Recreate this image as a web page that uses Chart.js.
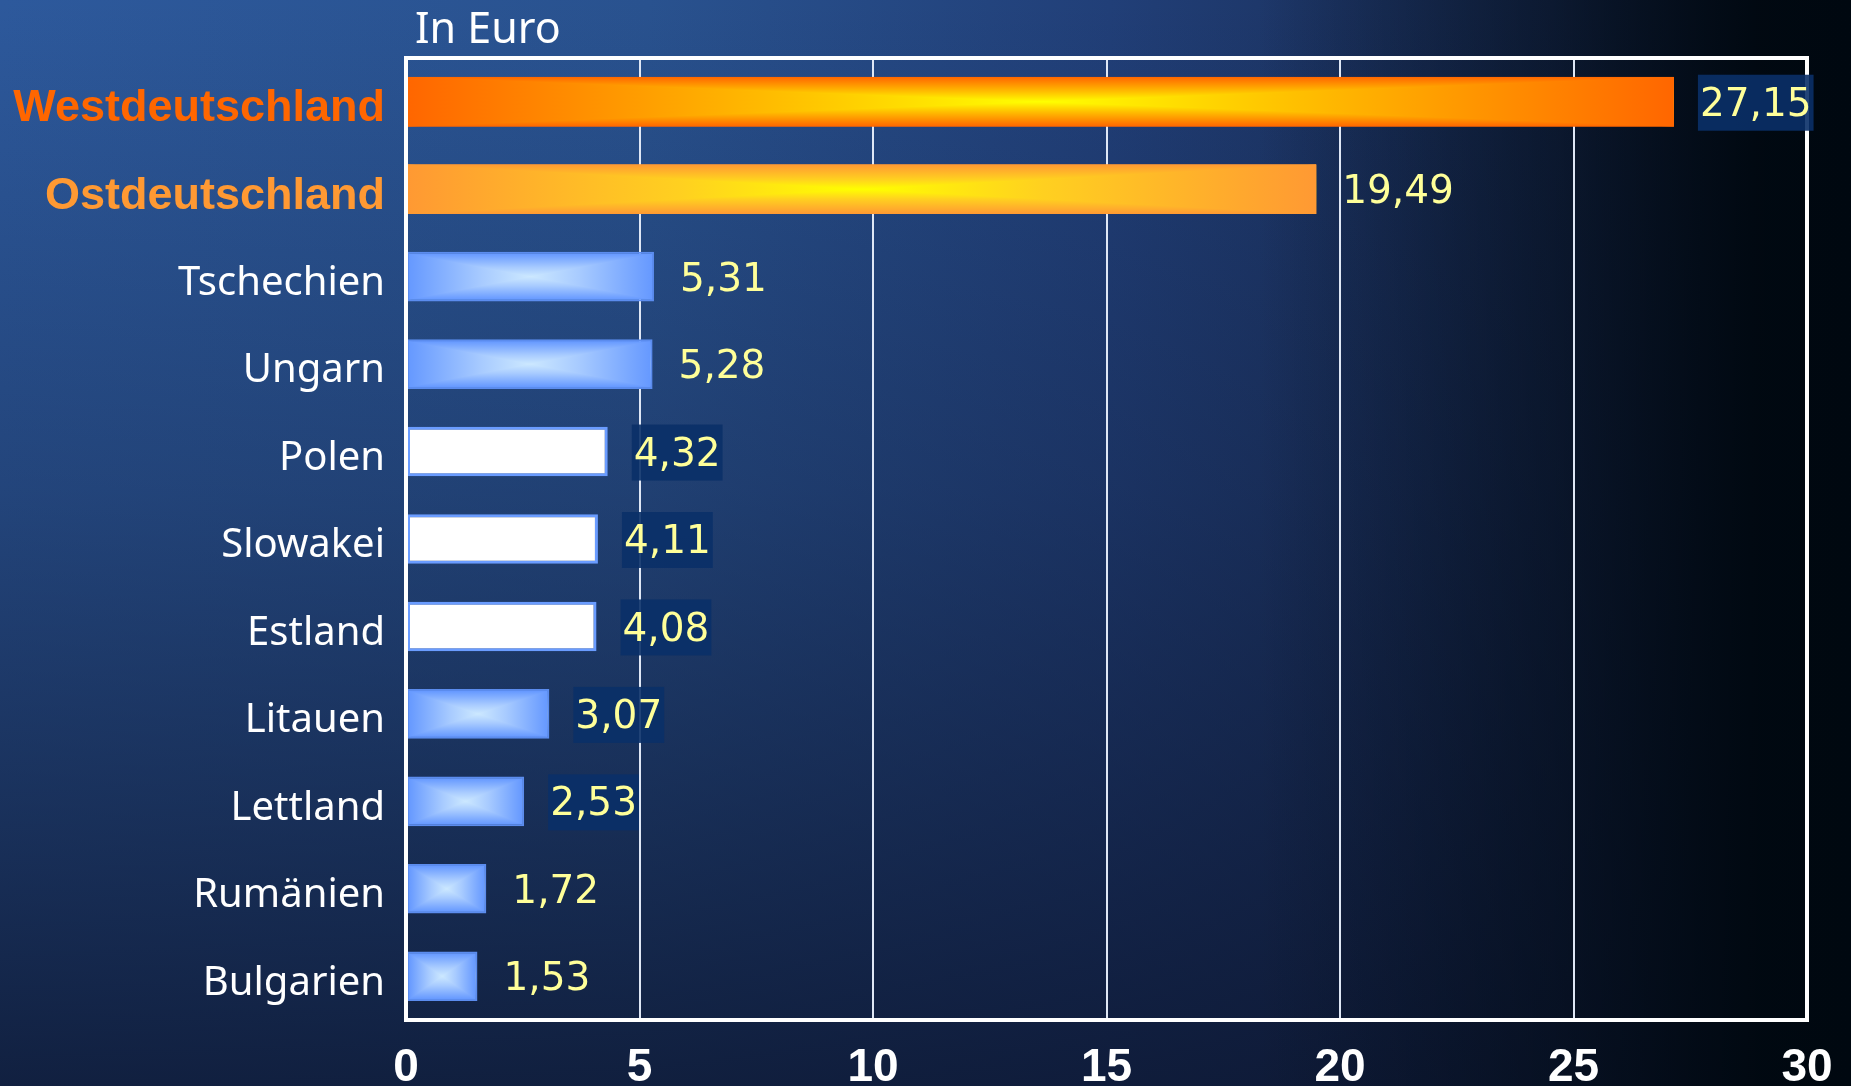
<!DOCTYPE html>
<html>
<head>
<meta charset="utf-8">
<script src="https://cdn.jsdelivr.net/npm/chart.js@4"></script>
<style>
  html, body { margin: 0; padding: 0; }
  body {
    width: 1851px; height: 1086px; overflow: hidden;
    background:
      linear-gradient(to right, rgba(0,8,16,0) 0%, rgba(0,8,16,0) 68%, rgba(0,8,16,0.5) 84%, rgba(0,8,16,0.97) 95%, #000810 100%),
      linear-gradient(to bottom, rgba(12,22,48,0) 0%, rgba(12,22,48,0.3) 45%, rgba(12,22,48,0.85) 100%),
      linear-gradient(to right, #2d599c 0%, #29528f 35%, #213f78 60%, #17294f 85%, #101b36 100%);
  }
  #wrap { width: 1851px; height: 1086px; position: relative; }
</style>
</head>
<body>
<div id="wrap"><canvas id="chart"></canvas></div>
<script>
let countries = ['Westdeutschland', 'Ostdeutschland', 'Tschechien', 'Ungarn', 'Polen', 'Slowakei',
                 'Estland', 'Litauen', 'Lettland', 'Rumänien', 'Bulgarien'];
let wages = [27.15, 19.49, 5.31, 5.28, 4.32, 4.11, 4.08, 3.07, 2.53, 1.72, 1.53];
let xTicks = [0, 5, 10, 15, 20, 25, 30];
let unitLabel = 'In Euro';

// look of each bar
let orange = {
    'Westdeutschland': { edge: '#ff6600', mid: '#ffff00', step: '#ffc000', label: '#ff6600' },
    'Ostdeutschland': { edge: '#ff9933', mid: '#ffff00', step: '#ffd020', label: '#ff9933' }
};
let whiteBars = ['Polen', 'Slowakei', 'Estland'];
let boxedValues = ['Westdeutschland', 'Polen', 'Slowakei', 'Estland', 'Litauen', 'Lettland'];

function fmt(v) {
    return v.toFixed(2).replace('.', ',');
}

function pillow(ctx, L, T, R, B, c) {
    let cx = (L + R) / 2, cy = (T + B) / 2;
    let g = ctx.createLinearGradient(0, T, 0, B);
    g.addColorStop(0, c.edge); g.addColorStop(0.3, c.step); g.addColorStop(0.5, c.mid);
    g.addColorStop(0.7, c.step); g.addColorStop(1, c.edge);
    ctx.fillStyle = g;
    ctx.fillRect(L, T, R - L, B - T);

    // left and right wedges
    [[L, cx], [R, cx]].forEach(([x0, x1]) => {
        let h = ctx.createLinearGradient(x0, 0, x1, 0);
        h.addColorStop(0, c.edge); h.addColorStop(0.6, c.step); h.addColorStop(1, c.mid);
        ctx.fillStyle = h;
        ctx.beginPath();
        ctx.moveTo(x0, T);
        ctx.lineTo(x1, cy);
        ctx.lineTo(x0, B);
        ctx.closePath();
        ctx.fill();
    });
}

let decor = {
    id: 'decor',
    afterDatasetsDraw(chart) {
        let ctx = chart.ctx;
        let area = chart.chartArea;
        let meta = chart.getDatasetMeta(0);
        ctx.save();

        meta.data.forEach((bar, i) => {
            let p = bar.getProps(['x', 'y', 'base', 'height'], true);
            let name = countries[i];
            if (whiteBars.includes(name)) return;
            let c = orange[name] || { edge: '#6699ff', mid: '#cce8ff', step: '#a8cbff' };
            let inset = orange[name] ? 0 : 2;
            pillow(ctx, p.base + inset, p.y - p.height / 2 + inset, p.x - inset, p.y + p.height / 2 - inset, c);
        });

        // frame round the plot
        ctx.strokeStyle = '#ffffff';
        ctx.lineWidth = 4;
        ctx.strokeRect(area.left, area.top, area.right - area.left, area.bottom - area.top);

        // value labels
        ctx.font = '39px "DejaVu Sans"';
        ctx.textBaseline = 'middle';
        ctx.textAlign = 'left';
        meta.data.forEach((bar, i) => {
            let p = bar.getProps(['x', 'y'], true);
            let txt = fmt(wages[i]);
            let tx = p.x + 26;
            let w = ctx.measureText(txt).width;
            if (boxedValues.includes(countries[i])) {
                ctx.fillStyle = 'rgba(10,48,104,0.9)';
                ctx.fillRect(tx - 2, p.y - 27, w + 4, 56);
            }
            ctx.fillStyle = '#ffff99';
            ctx.fillText(txt, tx, p.y + 4);
        });

        // unit label above the plot
        ctx.fillStyle = '#ffffff';
        ctx.font = '43px "Noto Sans"';
        ctx.fillText(unitLabel, area.left + 9, area.top - 27);
        ctx.restore();
    }
};

new Chart(document.getElementById('chart'), {
    type: 'bar',
    data: {
        labels: countries,
        datasets: [{
            data: wages,
            backgroundColor: countries.map(n => orange[n] ? orange[n].edge : (whiteBars.includes(n) ? '#ffffff' : '#6699ff')),
            borderColor: countries.map(n => orange[n] ? 'rgba(0,0,0,0)' : (whiteBars.includes(n) ? '#6a9cff' : '#5b8cee')),
            borderWidth: countries.map(n => orange[n] ? 0 : (whiteBars.includes(n) ? 3 : 2)),
            borderSkipped: false,
            barPercentage: 0.567,
            categoryPercentage: 1
        }]
    },
    options: {
        indexAxis: 'y',
        responsive: true,
        maintainAspectRatio: false,
        animation: false,
        layout: { padding: { top: 58, right: 0, left: 0, bottom: 0 } },
        plugins: {
            legend: { display: false },
            tooltip: { enabled: false }
        },
        scales: {
            x: {
                min: 0,
                max: 30,
                afterBuildTicks: s => { s.ticks = xTicks.map(v => ({ value: v })); },
                afterFit: s => { s.height = 66; s.paddingRight = 44; s.paddingLeft = 0; },
                grid: { color: '#dfe7f5', lineWidth: 2, drawTicks: false },
                border: { display: false },
                ticks: {
                    color: '#ffffff',
                    padding: 21,
                    font: { family: '"Liberation Sans", Arial, sans-serif', size: 46, weight: 'bold' }
                }
            },
            y: {
                afterFit: s => { s.width = 406; },
                grid: { display: false, drawTicks: false },
                border: { display: false },
                ticks: {
                    padding: 21,
                    labelOffset: 7,
                    color: c => (orange[countries[c.index]] ? orange[countries[c.index]].label : '#ffffff'),
                    font: c => (orange[countries[c.index]]
                        ? { family: '"Liberation Sans", Arial, sans-serif', size: 45, weight: 'bold' }
                        : { family: '"Noto Sans", sans-serif', size: 40, weight: 'normal' })
                }
            }
        }
    },
    plugins: [decor]
});
</script>
</body>
</html>
